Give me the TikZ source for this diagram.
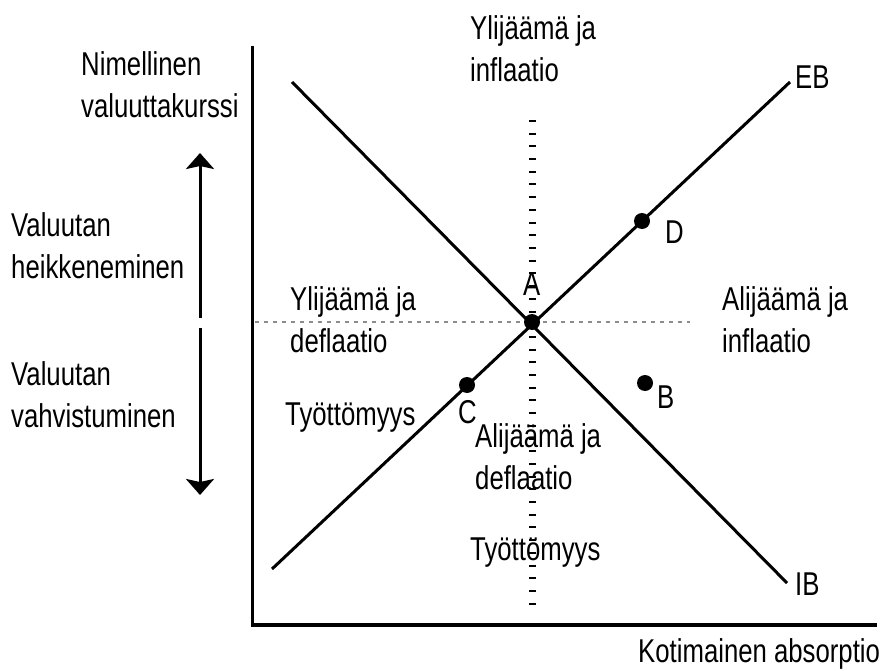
\documentclass[tikz,border=0pt]{standalone}
\usepackage{fontspec}
\setmainfont{Liberation Sans}[FakeStretch=0.78]
\usetikzlibrary{arrows.meta}
\begin{document}
\begin{tikzpicture}[x=1pt,y=-1pt,
  lbl/.style={anchor=base west,inner sep=0pt,align=left,font=\fontsize{33}{42}\selectfont},
  axis/.style={line width=3.8pt},
  curve/.style={line width=3pt},
  dot/.style={circle,fill=black,inner sep=0pt,minimum size=16pt},
  arr/.style={line width=3pt,-{Stealth[width=28pt,length=16pt,inset=3pt]}},
  hdot/.style={line width=1.4pt,draw=black!45,dash pattern=on 4pt off 5pt},
  vdot/.style={line width=7pt,dash pattern=on 2pt off 10.7pt}]
\useasboundingbox (0,0) rectangle (880,671);
% axes
\coordinate (ytop) at (252.5,46);
\coordinate (orig) at (252.5,625);
\coordinate (xend) at (877,625);
\draw[axis] (ytop) -- (orig) -- (xend);
% dotted guide lines
\coordinate (hl) at (255,322);
\coordinate (hr) at (690,322);
\draw[hdot] (hl) -- (hr);
\coordinate (vt) at (532,120);
\coordinate (vb) at (532,612);
\draw[vdot] (vt) -- (vb);
% IB and EB
\coordinate (ib1) at (292,82);
\coordinate (ib2) at (787,583);
\coordinate (eb1) at (272,569);
\coordinate (eb2) at (790,82);
\draw[curve] (ib1) -- (ib2);
\draw[curve] (eb1) -- (eb2);
% points
\node[dot] (A) at (532,322) {};
\node[dot] (D) at (642,221) {};
\node[dot] (B) at (645,383) {};
\node[dot] (C) at (467,385) {};
% arrows
\coordinate (au1) at (200,318);
\coordinate (au2) at (200,153);
\coordinate (ad1) at (200,328);
\coordinate (ad2) at (200,495);
\draw[arr] (au1) -- (au2);
\draw[arr] (ad1) -- (ad2);
% labels (multi-line nodes: base = last line's baseline)
\node[lbl] (tA) at (523,295) {A};
\node[lbl] (tD) at (665,243) {D};
\node[lbl] (tB) at (657,408) {B};
\node[lbl] (tC) at (458,423) {C};
\node[lbl] (tEB) at (795,89) {EB};
\node[lbl] (tIB) at (795,595) {IB};
\node[lbl] (ylab) at (81,118) {Nimellinen\\valuuttakurssi};
\node[lbl] (xlab) at (638,662) {Kotimainen absorptio};
\node[lbl] (top) at (470,82) {Ylijäämä ja\\inflaatio};
\node[lbl] (heik) at (11,278) {Valuutan\\heikkeneminen};
\node[lbl] (vahv) at (11,427) {Valuutan\\vahvistuminen};
\node[lbl] (left) at (290,352) {Ylijäämä ja\\deflaatio};
\node[lbl] (right) at (722,352) {Alijäämä ja\\inflaatio};
\node[lbl] (tyo1) at (285,425) {Työttömyys};
\node[lbl] (bot) at (475,489) {Alijäämä ja\\deflaatio};
\node[lbl] (tyo2) at (470,560) {Työttömyys};
\end{tikzpicture}
\end{document}
